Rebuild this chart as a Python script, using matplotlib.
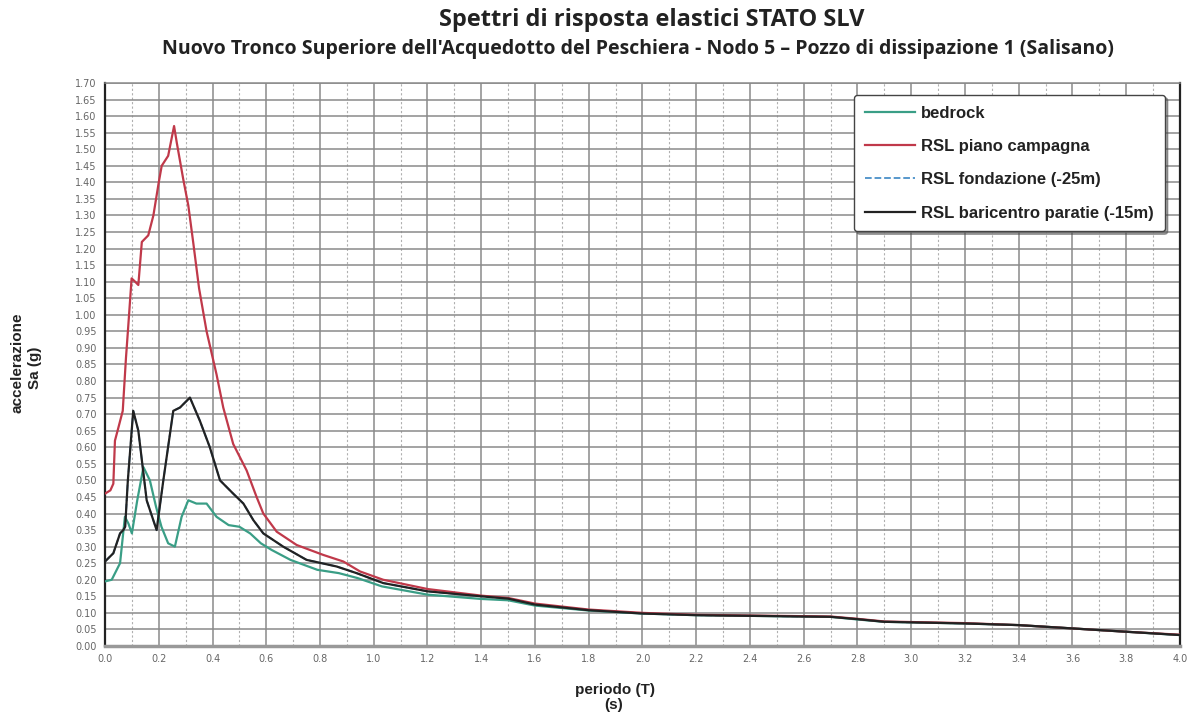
import matplotlib.pyplot as plt
from matplotlib.ticker import MultipleLocator, FormatStrFormatter

# periodo T (s) e accelerazione Sa (g)
t_bed = [0.0, 0.025, 0.056, 0.074, 0.087, 0.10, 0.12, 0.143, 0.167, 0.19, 0.21, 0.235, 0.26,
         0.285, 0.31, 0.34, 0.378, 0.415, 0.46, 0.50, 0.54, 0.58, 0.62, 0.69, 0.79, 0.87, 0.94,
         1.03, 1.2, 1.4, 1.5, 1.6, 1.8, 2.0, 2.2, 2.5, 2.7, 2.8, 2.9, 3.2, 3.4, 3.6, 3.8, 4.0]
sa_bed = [0.195, 0.20, 0.25, 0.39, 0.37, 0.34, 0.44, 0.54, 0.50, 0.42, 0.36, 0.31, 0.30,
          0.39, 0.44, 0.43, 0.43, 0.39, 0.365, 0.36, 0.34, 0.31, 0.29, 0.26, 0.23, 0.22, 0.205,
          0.18, 0.155, 0.142, 0.138, 0.122, 0.107, 0.098, 0.093, 0.09, 0.088, 0.08, 0.073, 0.068, 0.063, 0.053, 0.043, 0.033]

t_pc = [0.0, 0.02, 0.031, 0.037, 0.05, 0.066, 0.078, 0.086, 0.099, 0.112, 0.124, 0.137, 0.161, 0.18,
        0.20, 0.211, 0.235, 0.257, 0.267, 0.291, 0.31, 0.328, 0.35, 0.378, 0.415, 0.44, 0.477,
        0.527, 0.564, 0.589, 0.639, 0.713, 0.812, 0.887, 0.949, 1.035, 1.2, 1.4, 1.5, 1.6, 1.8,
        2.0, 2.2, 2.5, 2.7, 2.8, 2.9, 3.2, 3.4, 3.6, 3.8, 4.0]
sa_pc = [0.46, 0.47, 0.49, 0.62, 0.66, 0.71, 0.87, 0.96, 1.11, 1.10, 1.09, 1.22, 1.24, 1.30,
         1.40, 1.45, 1.48, 1.57, 1.52, 1.41, 1.33, 1.22, 1.08, 0.95, 0.82, 0.72, 0.61,
         0.53, 0.45, 0.40, 0.345, 0.305, 0.275, 0.255, 0.225, 0.20, 0.172, 0.152, 0.145, 0.128, 0.11,
         0.10, 0.094, 0.091, 0.089, 0.082, 0.074, 0.069, 0.063, 0.053, 0.043, 0.034]

t_bar = [0.0, 0.031, 0.056, 0.068, 0.075, 0.085, 0.105, 0.124, 0.155, 0.192, 0.217, 0.254, 0.279,
         0.316, 0.353, 0.39, 0.428, 0.477, 0.515, 0.552, 0.589, 0.663, 0.75, 0.862, 0.936, 1.035,
         1.2, 1.4, 1.5, 1.6, 1.8, 2.0, 2.2, 2.5, 2.7, 2.8, 2.9, 3.2, 3.4, 3.6, 3.8, 4.0]
sa_bar = [0.255, 0.28, 0.34, 0.35, 0.36, 0.50, 0.71, 0.65, 0.44, 0.35, 0.50, 0.71, 0.72,
          0.75, 0.68, 0.60, 0.50, 0.46, 0.43, 0.38, 0.34, 0.30, 0.26, 0.24, 0.22, 0.19,
          0.165, 0.15, 0.143, 0.125, 0.108, 0.098, 0.093, 0.09, 0.088, 0.081, 0.073, 0.068, 0.063, 0.053, 0.043, 0.033]

# fondazione (-25m): coincide con la curva del baricentro
t_fond = t_bar
sa_fond = sa_bar

fig = plt.figure(figsize=(11.96, 7.13), dpi=100)
ax = fig.add_axes([0.0878, 0.094, 0.8988, 0.7896])

ax.plot(t_fond, sa_fond, color='#4a90c8', lw=1.3, ls='--', label='RSL fondazione (-25m)', zorder=3)
ax.plot(t_bed, sa_bed, color='#3a9e86', lw=1.6, label='bedrock', zorder=4)
ax.plot(t_pc, sa_pc, color='#c0394a', lw=1.6, label='RSL piano campagna', zorder=5)
ax.plot(t_bar, sa_bar, color='#222222', lw=1.6, label='RSL baricentro paratie (-15m)', zorder=6)

ax.set_xlim(0, 4.0)
ax.set_ylim(0, 1.70)
ax.xaxis.set_major_locator(MultipleLocator(0.2))
ax.xaxis.set_minor_locator(MultipleLocator(0.1))
ax.yaxis.set_major_locator(MultipleLocator(0.05))
ax.xaxis.set_major_formatter(FormatStrFormatter('%.1f'))
ax.yaxis.set_major_formatter(FormatStrFormatter('%.2f'))
ax.grid(which='major', axis='both', color='#8a8a8a', lw=1.1)
ax.grid(which='minor', axis='x', color='#b0b0b0', lw=0.8, ls=(0, (2, 2)))
ax.tick_params(axis='both', which='both', length=0, labelsize=7, colors='#666666', pad=6)
for s in ['left', 'right']:
    ax.spines[s].set_color('#222222')
    ax.spines[s].set_linewidth(1.6)
ax.spines['bottom'].set_color('#999999')
ax.spines['bottom'].set_linewidth(2.5)
ax.spines['top'].set_color('#8a8a8a')
ax.spines['top'].set_linewidth(1.1)

handles, labels = ax.get_legend_handles_labels()
order = [1, 2, 0, 3]
leg = ax.legend([handles[i] for i in order], [labels[i] for i in order],
                loc='upper right', bbox_to_anchor=(0.986, 0.979), fancybox=True, shadow=True,
                framealpha=1, edgecolor='#444444', labelspacing=1.1, handlelength=3.0,
                borderpad=0.65, borderaxespad=0, handletextpad=0.4,
                prop={'family': 'Liberation Sans', 'weight': 'bold', 'size': 12})
leg.get_frame().set_linewidth(1.0)
for txt in leg.get_texts():
    txt.set_color('#222222')

fig.text(0.545, 0.972, 'Spettri di risposta elastici STATO SLV', ha='center', va='center',
         fontsize=17, fontweight='bold', family='Open Sans', color='#222222')
fig.text(0.533, 0.931, "Nuovo Tronco Superiore dell'Acquedotto del Peschiera - Nodo 5 \u2013 Pozzo di dissipazione 1 (Salisano)",
         ha='center', va='center', fontsize=14, fontweight='bold', family='Open Sans', color='#222222')

fig.text(0.015, 0.491, 'accelerazione', rotation=90, ha='center', va='center',
         fontsize=11, fontweight='bold', family='Liberation Sans', color='#222222')
fig.text(0.029, 0.484, 'Sa (g)', rotation=90, ha='center', va='center',
         fontsize=11, fontweight='bold', family='Liberation Sans', color='#222222')
fig.text(0.514, 0.032, 'periodo (T)', ha='center', va='center',
         fontsize=11, fontweight='bold', family='Liberation Sans', color='#222222')
fig.text(0.513, 0.011, '(s)', ha='center', va='center',
         fontsize=11, fontweight='bold', family='Liberation Sans', color='#222222')

fig.savefig('out.png', dpi=100)
